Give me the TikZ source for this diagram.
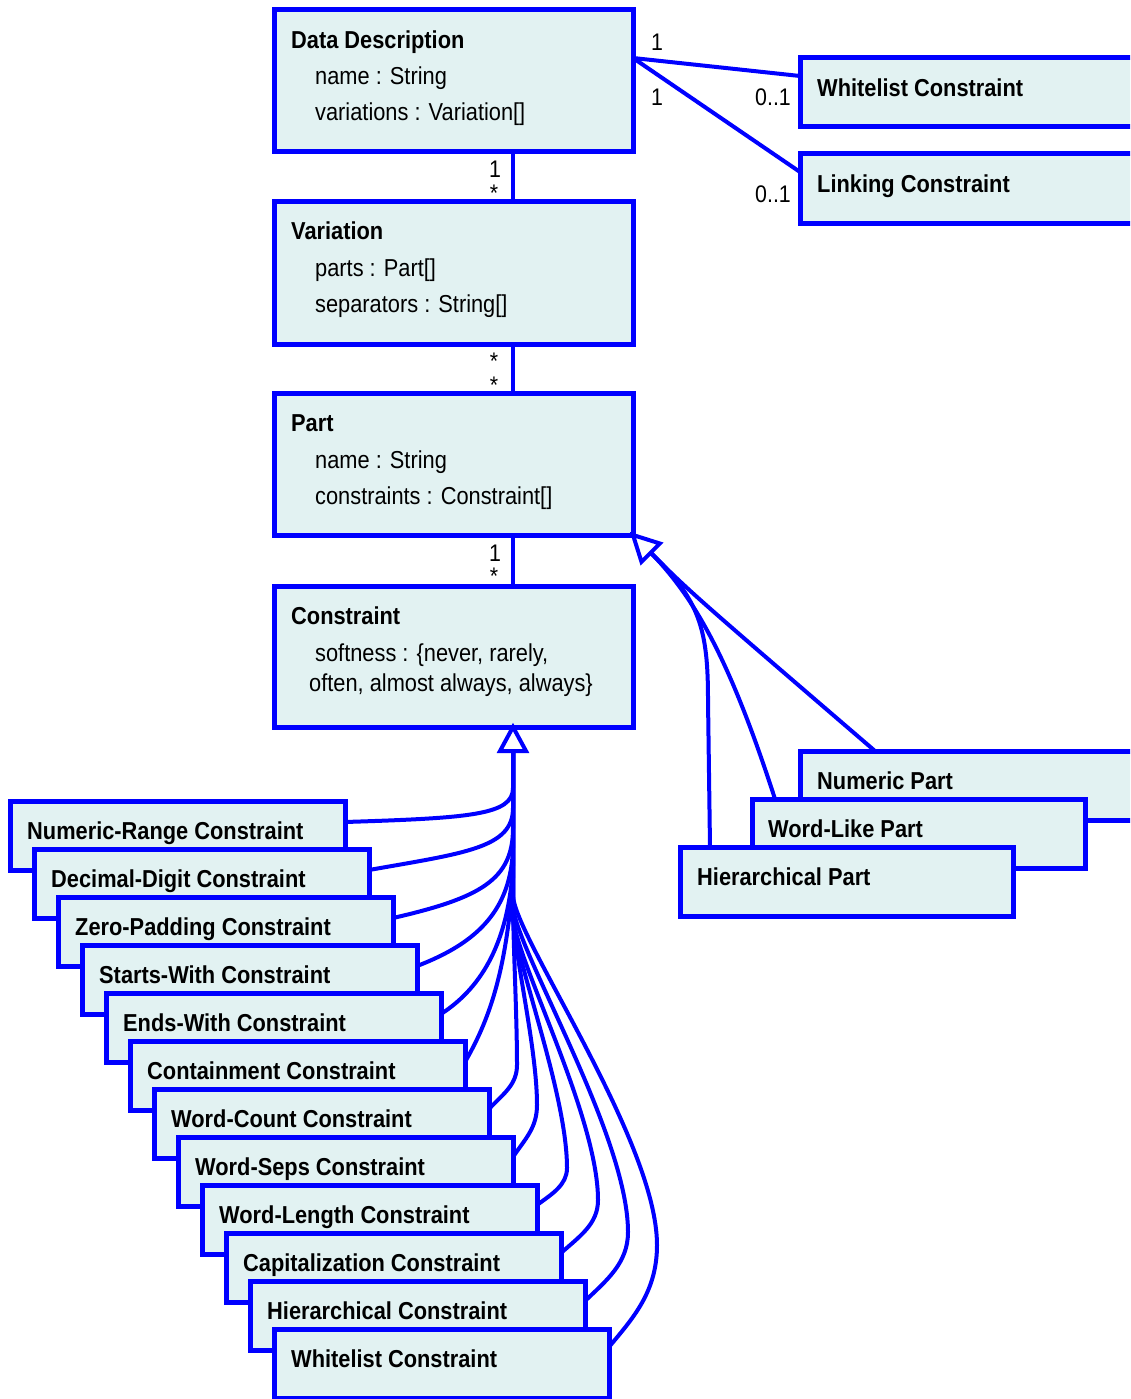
\documentclass[tikz,border=0pt]{standalone}
\usepackage{fontspec}
\setmainfont{Liberation Sans}[FakeStretch=0.89]
\usetikzlibrary{calc}
\definecolor{umlblue}{RGB}{0,0,255}
\definecolor{umlfill}{RGB}{226,242,242}
\begin{document}
\begin{tikzpicture}[x=1pt,y=-1pt,
  box/.style={draw=umlblue, fill=umlfill, line width=5pt, rectangle, inner sep=0pt, outer sep=0pt, anchor=north west},
  conn/.style={draw=umlblue, line width=4pt},
  ttl/.style={anchor=base west, inner sep=0pt, font=\fontsize{24.5}{29}\selectfont\bfseries},
  attr/.style={anchor=base west, inner sep=0pt, font=\fontsize{24.5}{29}\selectfont},
  mult/.style={anchor=base, inner sep=0pt, font=\fontsize{24}{28}\selectfont},
]
\path[use as bounding box] (0,0) rectangle (1130,1399);
\clip (0,0) rectangle (1130,1399);

% main class boxes
\node[box, minimum width=359pt, minimum height=142pt] (dd) at (274,10) {};
\node[ttl] (ddt) at ($(dd.north west)+(17,38.5)$) {Data Description};
\node[attr] (dda1) at ($(dd.north west)+(41,75)$) {name : String};
\node[attr] (dda2) at ($(dd.north west)+(41,111)$) {variations : Variation[]};

\node[box, minimum width=359pt, minimum height=143pt] (var) at (274,201) {};
\node[ttl] (vart) at ($(var.north west)+(17,38.5)$) {Variation};
\node[attr] (vara1) at ($(var.north west)+(41,75)$) {parts : Part[]};
\node[attr] (vara2) at ($(var.north west)+(41,111)$) {separators : String[]};

\node[box, minimum width=359pt, minimum height=142pt] (part) at (274,393) {};
\node[ttl] (partt) at ($(part.north west)+(17,38.5)$) {Part};
\node[attr] (parta1) at ($(part.north west)+(41,75)$) {name : String};
\node[attr] (parta2) at ($(part.north west)+(41,111)$) {constraints : Constraint[]};

\node[box, minimum width=359pt, minimum height=141pt] (cons) at (274,586) {};
\node[ttl] (const) at ($(cons.north west)+(17,38.5)$) {Constraint};
\node[attr] (consa1) at ($(cons.north west)+(41,75)$) {softness : \{never, rarely,};
\node[attr] (consa2) at ($(cons.north west)+(35,105)$) {often, almost always, always\}};

% right boxes
\node[box, minimum width=400pt, minimum height=69pt] (wl) at (800,58) {};
\node[ttl] (wlt) at ($(wl.north west)+(17,38.5)$) {Whitelist Constraint};
\node[box, minimum width=400pt, minimum height=69pt] (lk) at (800,154) {};
\node[ttl] (lkt) at ($(lk.north west)+(17,38.5)$) {Linking Constraint};

% part subclasses
\node[box, minimum width=400pt, minimum height=69pt] (np) at (800,751) {};
\node[ttl] (npt) at ($(np.north west)+(17,38.5)$) {Numeric Part};
\node[box, minimum width=333pt, minimum height=69pt] (wlp) at (752,799) {};
\node[ttl] (wlpt) at ($(wlp.north west)+(16,38.5)$) {Word-Like Part};
\node[box, minimum width=333pt, minimum height=69pt] (hp) at (680,847) {};
\node[ttl] (hpt) at ($(hp.north west)+(17,38.5)$) {Hierarchical Part};

% constraint subclasses
\foreach \t [count=\i from 0] in {Numeric-Range Constraint, Decimal-Digit Constraint, Zero-Padding Constraint, Starts-With Constraint, Ends-With Constraint, Containment Constraint, Word-Count Constraint, Word-Seps Constraint, Word-Length Constraint, Capitalization Constraint, Hierarchical Constraint, Whitelist Constraint}{
  \node[box, minimum width=335pt, minimum height=69pt] (c\i) at ({10+24*\i},{801+48*\i}) {};
  \node[ttl] (ct\i) at ($(c\i.north west)+(17,38.5)$) {\t};
}

% associations
\draw[conn] ($(dd.south west)+(239,0)$) -- ($(var.north west)+(239,0)$);
\draw[conn] ($(var.south west)+(239,0)$) -- ($(part.north west)+(239,0)$);
\draw[conn] ($(part.south west)+(239,0)$) -- ($(cons.north west)+(239,0)$);
\draw[conn] ($(dd.north east)+(0,48)$) -- ($(wl.north west)+(0,18)$);
\draw[conn] ($(dd.north east)+(0,48)$) -- ($(lk.north west)+(0,18)$);

\node[mult] (m1) at (657,51) {1};
\node[mult] (m2) at (657,106) {1};
\node[mult] (m3) at (773,106) {0..1};
\node[mult] (m4) at (773,203) {0..1};
\node[mult] (m5) at (495,178) {1};
\node[mult] (m6) at (494,201) {*};
\node[mult] (m7) at (494,369) {*};
\node[mult] (m8) at (494,393) {*};
\node[mult] (m9) at (495,561) {1};
\node[mult] (m10) at (494,584) {*};

% generalization to Part
\coordinate (ptip) at (part.south east);
\coordinate (pb1) at ($(ptip)+(8.5,26.9)$);
\coordinate (pb2) at ($(ptip)+(26.9,8.5)$);
\coordinate (pbase) at ($(ptip)+(17.7,17.7)$);
\draw[conn] (pbase) .. controls (690,592) .. ($(np.north west)+(75,0)$);
\draw[conn] (pbase) .. controls (695,598) and (730,660) .. ($(wlp.north west)+(23,0)$);
\draw[conn] (pbase) .. controls (700,600) and (708,630) .. (708,700) -- ($(hp.north west)+(30,0)$);
\draw[conn, fill=white] (ptip) -- (pb1) -- (pb2) -- cycle;

% generalization to Constraint
\coordinate (ctip) at ($(cons.south west)+(239,0)$);
\coordinate (cb1) at ($(ctip)+(-13,24)$);
\coordinate (cb2) at ($(ctip)+(13,24)$);
\coordinate (cbase) at ($(ctip)+(0,24)$);
\draw[conn] (cbase) -- (513,788) .. controls (513,815) and (470,818) .. ($(c0.north east)+(0,21)$);
\draw[conn] (cbase) -- (513,808) .. controls (513,848) and (465,853) .. ($(c1.north east)+(0,21)$);
\draw[conn] (cbase) -- (513,828) .. controls (513,880) and (480,898) .. ($(c2.north east)+(0,21)$);
\draw[conn] (cbase) -- (513,848) .. controls (511,908) and (480,942) .. ($(c3.north east)+(0,21)$);
\draw[conn] (cbase) -- (513,866) .. controls (508,948) and (478,990) .. ($(c4.north east)+(0,21)$);
\draw[conn] (cbase) -- (513,878) .. controls (506,975) and (488,1022) .. ($(c5.north east)+(0,21)$);
\draw[conn] (cbase) -- (513,900) .. controls (513,940) and (517,1015) .. (517,1065) .. controls (517,1085) and (503,1094) .. ($(c6.north east)+(0,20)$);
\draw[conn] (cbase) -- (513,910) .. controls (513,950) and (537,1047) .. (537,1105) .. controls (537,1128) and (525,1139) .. ($(c7.north east)+(0,20)$);
\draw[conn] (cbase) -- (513,915) .. controls (513,955) and (567,1092) .. (567,1168) .. controls (567,1185) and (552,1194) .. ($(c8.north east)+(0,20)$);
\draw[conn] (cbase) -- (513,915) .. controls (513,955) and (598,1115) .. (598,1200) .. controls (598,1224) and (580,1236) .. ($(c9.north east)+(0,20)$);
\draw[conn] (cbase) -- (513,905) .. controls (513,945) and (628,1134) .. (628,1232) .. controls (628,1263) and (607,1280) .. ($(c10.north east)+(0,20)$);
\draw[conn] (cbase) -- (513,895) .. controls (513,935) and (657,1140) .. (657,1245) .. controls (657,1292) and (633,1318) .. ($(c11.north east)+(0,18)$);
\draw[conn, fill=white] (ctip) -- (cb1) -- (cb2) -- cycle;
\end{tikzpicture}
\end{document}
